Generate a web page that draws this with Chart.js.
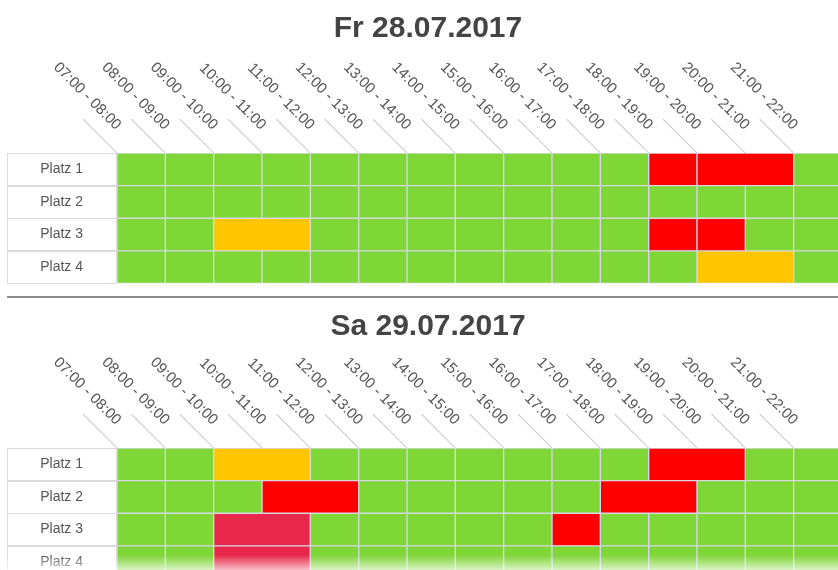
<!DOCTYPE html>
<html lang="de">
<head>
<meta charset="utf-8">
<title>Platzbelegung</title>
<script src="https://cdn.jsdelivr.net/npm/chart.js@4.4.1/dist/chart.umd.min.js"></script>
<style>
    html, body { margin: 0; padding: 0; background: #fff; overflow: hidden; }
    body { width: 838px; height: 570px; position: relative; }
    .tag { position: absolute; left: 0; width: 850px; height: 295px; }
    #tag-fr { top: 0; }
    #tag-sa { top: 295px; }
    .trenner { position: absolute; left: 7px; right: 0; top: 296px; height: 2px; background: #8c8c8c; }
    .ausblenden { position: absolute; left: 0; right: 0; top: 555px; height: 15px;
        background: linear-gradient(rgba(255,255,255,0), rgba(255,255,255,0.7)); }
</style>
</head>
<body>
<div class="tag" id="tag-fr"><canvas id="chart-fr" width="850" height="295"></canvas></div>
<div class="trenner"></div>
<div class="tag" id="tag-sa"><canvas id="chart-sa" width="850" height="295"></canvas></div>
<div class="ausblenden"></div>
<script>
// Spaltenköpfe (Zeitfenster)
const zeitLabels = [
    '07:00 - 08:00', '08:00 - 09:00', '09:00 - 10:00', '10:00 - 11:00', '11:00 - 12:00',
    '12:00 - 13:00', '13:00 - 14:00', '14:00 - 15:00', '15:00 - 16:00', '16:00 - 17:00',
    '17:00 - 18:00', '18:00 - 19:00', '19:00 - 20:00', '20:00 - 21:00', '21:00 - 22:00'
];
const stundeStart = 7;
const stundeEnde = 22;

// Zeilen
const plaetze = ['Platz 1', 'Platz 2', 'Platz 3', 'Platz 4'];

// Fr 28.07.2017 - Buchungen (Platz-Index, von, bis, Status)
const frPlatz  = [0, 0, 2, 2, 2, 3];
const frVon    = [18, 19, 9, 18, 19, 19];
const frBis    = [19, 21, 11, 19, 20, 21];
const frStatus = ['belegt', 'belegt', 'reserviert', 'belegt', 'belegt', 'reserviert'];

// Sa 29.07.2017 - Buchungen
const saPlatz  = [0, 0, 1, 1, 2, 2, 3];
const saVon    = [9, 18, 10, 17, 9, 16, 9];
const saBis    = [11, 20, 12, 19, 11, 17, 11];
const saStatus = ['reserviert', 'belegt', 'belegt', 'belegt', 'gesperrt', 'belegt', 'gesperrt'];

const schrift = 'Arial, "Liberation Sans", sans-serif';

const statusFarben = {
    frei: '#7fd637',
    belegt: '#ff0000',
    reserviert: '#ffc600',
    gesperrt: '#e8284a'
};

/**
 * Datensätze bauen: Buchungen als Blöcke, freie Stunden als Einzelzellen
 */
function baueDatensaetze(platz, von, bis, status) {
    const gruppen = { frei: [], belegt: [], reserviert: [], gesperrt: [] };

    for (let i = 0; i < platz.length; i++) {
        gruppen[status[i]].push({ x: [von[i], bis[i]], y: plaetze[platz[i]] });
    }

    // freie Stunden = alle Stunden ohne Buchung
    plaetze.forEach((p, pi) => {
        for (let h = stundeStart; h < stundeEnde; h++) {
            const gebucht = platz.some((q, i) => q === pi && h >= von[i] && h < bis[i]);
            if (!gebucht) gruppen.frei.push({ x: [h, h + 1], y: p });
        }
    });

    return Object.keys(gruppen).map(k => ({
        label: k,
        data: gruppen[k],
        backgroundColor: statusFarben[k],
        borderColor: '#d6d8e6',
        borderWidth: 1,
        borderSkipped: false,
        grouped: false,
        barPercentage: 1,
        categoryPercentage: 1
    }));
}

// Kopfzeile (schräge Zeitfenster) und Rahmen der Platz-Spalte
const kopfPlugin = {
    id: 'kopf',
    afterDraw(chart) {
        const { ctx, chartArea, scales: { x, y } } = chart;
        ctx.save();

        // Rahmen Platz-Spalte
        ctx.strokeStyle = '#dadada';
        ctx.lineWidth = 1;
        const links = 7.5;
        const halb = (y.getPixelForValue(1) - y.getPixelForValue(0)) / 2;
        plaetze.forEach((p, i) => {
            const m = y.getPixelForValue(i);
            ctx.strokeRect(links, Math.round(m - halb) + 0.5, chartArea.left - links - 0.5, Math.round(halb * 2) - 1);
        });

        // Spaltenköpfe
        ctx.font = '15px ' + schrift;
        ctx.fillStyle = '#555';
        ctx.textAlign = 'right';
        ctx.textBaseline = 'middle';
        zeitLabels.forEach((txt, i) => {
            const px = x.getPixelForValue(stundeStart + i);
            ctx.save();
            ctx.translate(px, chartArea.top);
            ctx.rotate(Math.PI / 4);
            ctx.strokeStyle = '#c4c4c4';
            ctx.beginPath();
            ctx.moveTo(-48, 0);
            ctx.lineTo(0, 0);
            ctx.stroke();
            ctx.fillText(txt, -17, -19);
            ctx.restore();
        });

        ctx.restore();
    }
};

function baueChart(id, titel, titelOben, datensaetze) {
    const ctx = document.getElementById(id).getContext('2d');
    return new Chart(ctx, {
        type: 'bar',
        data: { labels: plaetze, datasets: datensaetze },
        options: {
            indexAxis: 'y',
            responsive: false,
            animation: false,
            layout: { padding: { left: 14, right: 8, top: 0, bottom: 11.5 } },
            scales: {
                x: {
                    type: 'linear',
                    min: stundeStart,
                    max: stundeEnde,
                    display: false
                },
                y: {
                    type: 'category',
                    labels: plaetze,
                    offset: true,
                    grid: { display: false, drawTicks: false },
                    border: { display: false },
                    ticks: {
                        color: '#555',
                        font: { size: 14, family: schrift },
                        padding: 34
                    },
                    afterFit(scale) {
                        // feste Breite der Platz-Spalte, kein Überstand oben/unten
                        scale.width = 103;
                        scale.paddingTop = 0;
                        scale.paddingBottom = 0;
                    }
                }
            },
            plugins: {
                legend: { display: false },
                tooltip: { enabled: false },
                title: {
                    display: true,
                    text: titel,
                    color: '#444',
                    font: { size: 30, weight: 'bold', family: schrift },
                    padding: { top: titelOben, bottom: 153 - titelOben - 36 }
                }
            }
        },
        plugins: [kopfPlugin]
    });
}

baueChart('chart-fr', 'Fr 28.07.2017', 11, baueDatensaetze(frPlatz, frVon, frBis, frStatus));
baueChart('chart-sa', 'Sa 29.07.2017', 13.5, baueDatensaetze(saPlatz, saVon, saBis, saStatus));
</script>
</body>
</html>
